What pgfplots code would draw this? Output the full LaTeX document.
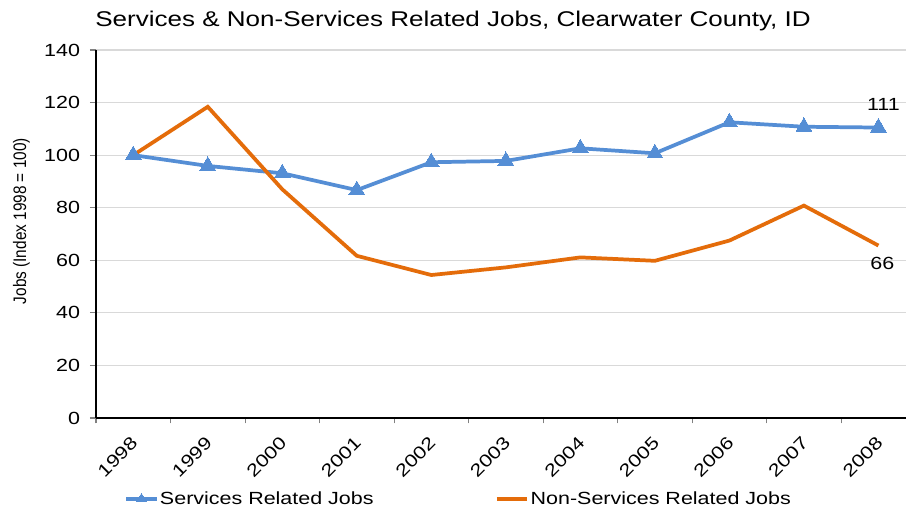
\documentclass[border=0pt]{standalone}
\usepackage{graphicx}
\usepackage{pgfplots}
\pgfplotsset{compat=1.18}
\usepackage{fontspec}
\setmainfont{Liberation Sans}[FakeStretch=1.22]
\newfontfamily\ylabfont{Liberation Sans}
\definecolor{svc}{RGB}{85,142,213}
\definecolor{nsv}{RGB}{228,108,10}
\definecolor{gridc}{RGB}{217,217,217}
\definecolor{tickc}{RGB}{128,128,128}
\begin{document}
\begin{tikzpicture}
\useasboundingbox[fill=white] (0,0) rectangle (679.5pt,382.5pt);
\node[anchor=base west, inner sep=0pt, font=\fontsize{16}{19}\selectfont] at (71.25pt,362.5pt) {Services \& Non-Services Related Jobs, Clearwater County, ID};
\begin{axis}[
  at={(72pt,69pt)}, anchor=south west,
  scale only axis, width=607.5pt, height=276pt,
  xmin=-0.5, xmax=10.37, ymin=0, ymax=140,
  axis x line*=bottom, axis y line*=left,
  axis line style={black, line width=1.1pt},
  ytick={0,20,...,140},
  ymajorgrids, grid style={gridc, line width=0.8pt},
  xtick={0,...,10},
  xticklabels={1998,1999,2000,2001,2002,2003,2004,2005,2006,2007,2008},
  minor xtick={-0.5,0.5,...,9.5},
  major x tick style={draw=none},
  minor x tick style={tickc, line width=0.8pt},
  y tick style={tickc, line width=0.8pt},
  tick align=outside,
  major tick length=4.5pt, minor tick length=4pt,
  /pgf/number format/assume math mode=true,
  tick label style={font=\fontsize{13.2}{15}\selectfont},
  yticklabel style={xshift=-4pt},
  xticklabel style={xshift=-2.5pt, yshift=-7pt, rotate=45, anchor=north east, inner sep=1pt},
  ylabel={\scalebox{1}[1.18]{\ylabfont Jobs (Index 1998 = 100)}},
  every axis y label/.style={at={(axis description cs:-0.092,0.535)}, rotate=90, anchor=center, font=\fontsize{11.5}{13}\selectfont},
  legend columns=2,
  legend style={at={(axis description cs:0,0)}, anchor=west, xshift=21pt, yshift=-60.5pt, draw=none, fill=none, inner sep=0pt,
    font=\fontsize{13.2}{15}\selectfont,
    nodes={inner sep=1pt},
    /tikz/every even column/.append style={column sep=90pt}},
  legend image code/.code={\draw[mark repeat=2,mark phase=2, mark size=4pt] plot coordinates {(0pt,0pt) (11.5pt,0pt) (23pt,0pt)};},
]
\addplot[svc, line width=2.8pt, mark=triangle*, mark size=6.8pt, mark options={solid, line width=0pt}] coordinates {
(0,100) (1,95.9) (2,93.1) (3,86.7) (4,97.3) (5,97.8) (6,102.6) (7,100.7) (8,112.5) (9,110.8) (10,110.5)};
\addlegendentry{Services Related Jobs}
\addplot[nsv, line width=2.8pt] coordinates {
(0,100) (1,118.4) (2,87.0) (3,61.7) (4,54.4) (5,57.3) (6,61.1) (7,59.8) (8,67.5) (9,80.8) (10,65.6)};
\addlegendentry{Non-Services Related Jobs}
\node[anchor=base, font=\fontsize{13.2}{15}\selectfont, xshift=3.75pt, yshift=12.5pt] at (axis cs:10,110.5) {111};
\node[anchor=base, font=\fontsize{13.2}{15}\selectfont, xshift=3pt, yshift=-18.2pt] at (axis cs:10,65.6) {66};
\end{axis}
\end{tikzpicture}
\end{document}
